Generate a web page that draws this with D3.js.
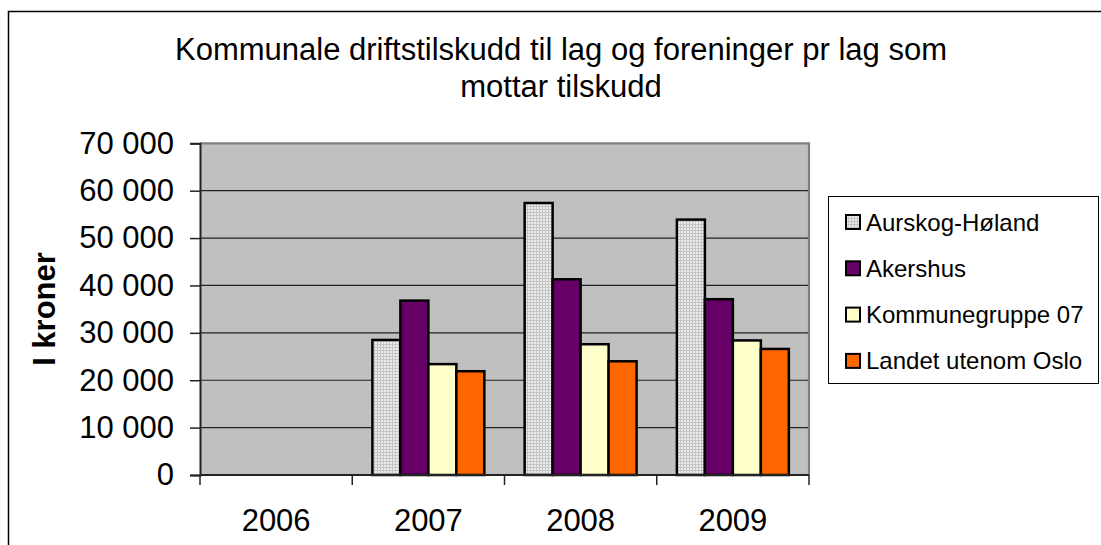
<!DOCTYPE html>
<html><head><meta charset="utf-8">
<script src="https://cdn.jsdelivr.net/npm/d3@7"></script>
<style>body{margin:0;background:#fff}svg{display:block}text{font-family:"Liberation Sans",Arial,sans-serif;fill:#000}</style>
</head><body><svg id="c" width="1101" height="545"></svg>
<script>
const years = ["2006","2007","2008","2009"];
const seriesNames = ["Aurskog-Høland","Akershus","Kommunegruppe 07","Landet utenom Oslo"];
const aurskog = [null, 28500, 57400, 53900];
const akershus = [null, 36800, 41300, 37100];
const kommunegruppe = [null, 23400, 27600, 28400];
const landet = [null, 21900, 24000, 26600];
const yTicks = [0,10000,20000,30000,40000,50000,60000,70000];
const titleLines = ["Kommunale driftstilskudd til lag og foreninger pr lag som","mottar tilskudd"];
const yTitle = "I kroner";

const seriesValues = [aurskog, akershus, kommunegruppe, landet];
const fills = ["url(#dots)","#660066","#FFFFCC","#FF6600"];

const svg = d3.select("#c");
const defs = svg.append("defs");
const pat = defs.append("pattern").attr("id","dots").attr("patternUnits","userSpaceOnUse").attr("width",3).attr("height",3);
pat.append("rect").attr("width",3).attr("height",3).attr("fill","#c4c4c4");
pat.append("rect").attr("width",2).attr("height",2).attr("fill","#ececec");

// outer frame
svg.append("rect").attr("x",8.5).attr("y",11.5).attr("width",1200).attr("height",600)
  .attr("fill","none").attr("stroke","#000").attr("stroke-width",1.5);

const L=200,R=809,T=143.3,B=475;
const x0 = d3.scaleBand().domain(years).range([L,R]).padding(0);
const x1 = d3.scaleBand().domain(seriesNames).range([0,x0.bandwidth()]).paddingInner(0).paddingOuter(0.72);
const y = d3.scaleLinear().domain([0,70000]).range([B,T]);

// plot background
svg.append("rect").attr("x",L).attr("y",T).attr("width",R-L).attr("height",B-T).attr("fill","#C0C0C0");
// gridlines
svg.append("g").selectAll("line").data(yTicks.filter(d=>d>0 && d<70000)).join("line")
  .attr("x1",L).attr("x2",R).attr("y1",d=>y(d)).attr("y2",d=>y(d)).attr("stroke","#222").attr("stroke-width",1.2);
// plot border top/right
svg.append("path").attr("d",`M${L},${T}H${R}V${B}`).attr("fill","none").attr("stroke","#808080").attr("stroke-width",2.2);

// bars
const g = svg.append("g");
years.forEach((yr,i)=>{
  seriesNames.forEach((s,j)=>{
    const v = seriesValues[j][i];
    if(v==null) return;
    g.append("rect")
      .attr("x", x0(yr)+x1(s)).attr("y", y(v))
      .attr("width", x1.bandwidth()).attr("height", y(0)-y(v))
      .attr("fill", fills[j]).attr("stroke","#000").attr("stroke-width",2.5);
  });
});

// y axis
const yAxis = d3.axisLeft(y).tickValues(yTicks).tickSize(10).tickPadding(16)
  .tickFormat(d=>d3.format(",")(d).replace(/,/g," "));
const ya = svg.append("g").attr("transform",`translate(${L},0)`).call(yAxis);
ya.select(".domain").attr("stroke","#222").attr("stroke-width",2);
ya.selectAll(".tick line").attr("stroke","#222").attr("stroke-width",1.5);
ya.selectAll("text").attr("font-size",31).attr("font-family","Liberation Sans, Arial, sans-serif").attr("fill","#000");

// x axis
const xTickScale = d3.scaleLinear().domain([0,4]).range([L,R]);
svg.append("line").attr("x1",L).attr("x2",R).attr("y1",B).attr("y2",B).attr("stroke","#222").attr("stroke-width",2);
svg.append("g").selectAll("line").data(d3.range(5)).join("line")
  .attr("x1",d=>xTickScale(d)).attr("x2",d=>xTickScale(d)).attr("y1",B).attr("y2",B+10)
  .attr("stroke","#222").attr("stroke-width",1.5);
svg.append("g").selectAll("text").data(years).join("text")
  .attr("x",d=>x0(d)+x0.bandwidth()/2).attr("y",531).attr("text-anchor","middle").attr("font-size",31).text(d=>d);

// title
svg.append("g").selectAll("text").data(titleLines).join("text")
  .attr("x",561).attr("y",(d,i)=>60+i*37).attr("text-anchor","middle").attr("font-size",31).text(d=>d);

// y title
svg.append("text").attr("transform","translate(55,309) rotate(-90)").attr("text-anchor","middle")
  .attr("font-size",31).attr("font-weight","bold").text(yTitle);

// legend
svg.append("rect").attr("x",828.5).attr("y",196.5).attr("width",270).attr("height",187)
  .attr("fill","#fff").attr("stroke","#000").attr("stroke-width",1);
const lg = svg.append("g").selectAll("g").data(seriesNames).join("g")
  .attr("transform",(d,i)=>`translate(0,${222+i*46.3})`);
lg.append("rect").attr("x",846).attr("y",-7).attr("width",14).attr("height",14)
  .attr("fill",(d,i)=>fills[i]).attr("stroke","#000").attr("stroke-width",2);
lg.append("text").attr("x",866).attr("y",8.5).attr("font-size",24).text(d=>d);
</script></body></html>
